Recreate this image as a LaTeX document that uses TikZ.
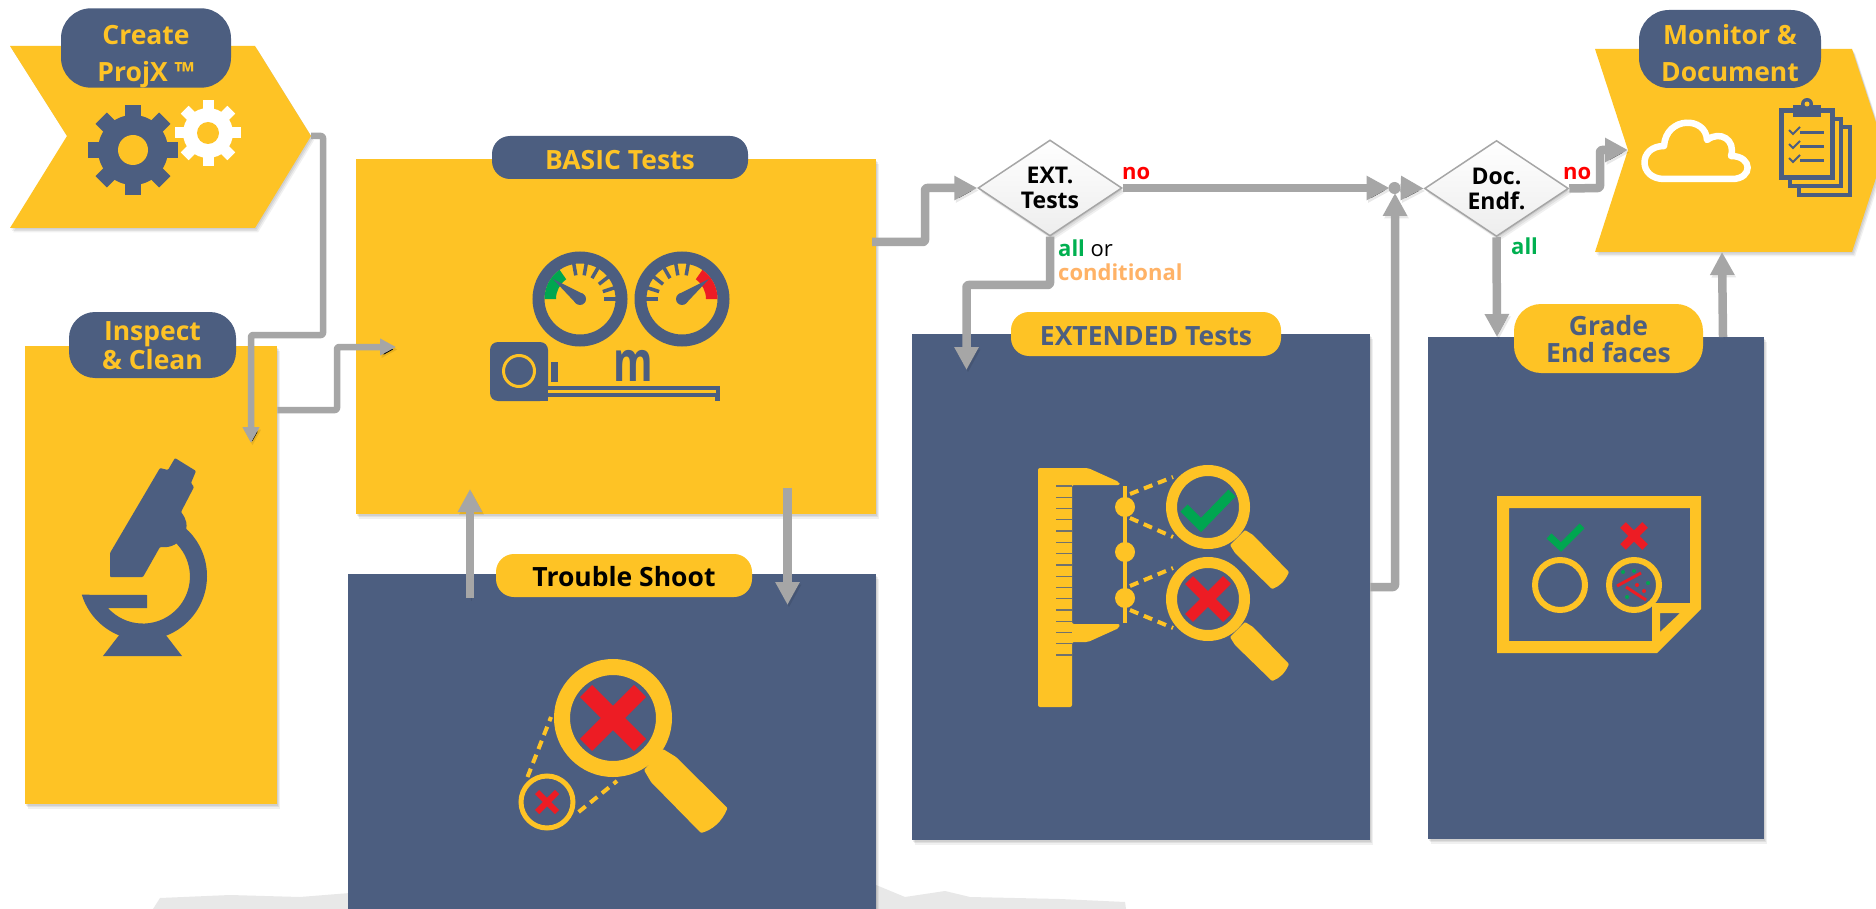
\documentclass[tikz,border=0pt]{standalone}
\usepackage{fontspec}
\setmainfont{Open Sans}
\usetikzlibrary{arrows.meta,shapes.geometric,calc}
\definecolor{ygold}{HTML}{FEC325}
\definecolor{bluegray}{HTML}{4C5E80}
\definecolor{flowgray}{HTML}{A6A6A6}
\definecolor{okgreen}{HTML}{00A650}
\definecolor{allgreen}{HTML}{00B050}
\definecolor{badred}{HTML}{ED1C24}
\definecolor{noorange}{HTML}{FFB266}
\newcommand{\pillline}[1]{\vphantom{Ap}#1}
\newcommand{\pilltop}[2]{\rule{0pt}{#1pt}\vphantom{Ap}#2}
\tikzset{
  softshadow/.style={
    preaction={fill=black,fill opacity=.07,draw=none,transform canvas={shift={(1pt,-1.5pt)}}},
    preaction={fill=black,fill opacity=.07,draw=none,transform canvas={shift={(2pt,-3pt)}}},
    preaction={fill=black,fill opacity=.06,draw=none,transform canvas={shift={(3pt,-4.5pt)}}}},
  panelY/.style={rectangle,fill=ygold,anchor=north west,inner sep=0,softshadow},
  panelB/.style={rectangle,fill=bluegray,anchor=north west,inner sep=0,softshadow},
  pillB/.style={rectangle,fill=bluegray,inner sep=0,align=center,text=ygold,font=\fontsize{26.5}{28}\selectfont\bfseries},
  pillY/.style={rectangle,fill=ygold,inner sep=0,align=center,text=bluegray,font=\fontsize{26.5}{28}\selectfont\bfseries},
  decision/.style={diamond,aspect=1.5,inner sep=0,draw=flowgray,line width=1.5pt,top color=white,bottom color=black!7,
     minimum width=144pt,minimum height=96pt,align=center,text=black,font=\fontsize{23}{26}\selectfont\bfseries,
     softshadow},
  flowthin/.style={draw=flowgray,line width=6.5pt,rounded corners=2pt,line join=round,-{Triangle[length=16pt,width=16pt]},
     preaction={draw=black,draw opacity=.09,transform canvas={shift={(1.5pt,-2.5pt)}}}},
  flowthick/.style={draw=flowgray,line width=8.5pt,rounded corners=2pt,line join=round,-{Triangle[length=23pt,width=23pt]},
     preaction={draw=black,draw opacity=.09,transform canvas={shift={(1.5pt,-2.5pt)}}}},
  lab/.style={inner sep=0,anchor=west,font=\fontsize{22}{25}\selectfont\bfseries},
  dashy/.style={ygold,line width=4pt,dash pattern=on 9pt off 6pt},
}
\begin{document}
\begin{tikzpicture}[x=1pt,y=-1pt]
\useasboundingbox (0,0) rectangle (1876,909);
\fill[white] (0,0) rectangle (1876,909);
% grainy ground band
\fill[black!9] (153,909) -- (160,898) -- (230,895) -- (300,897) -- (350,893) -- (350,909) -- cycle;
\fill[black!9] (876,885) -- (905,897) -- (945,891) -- (970,897) -- (1060,899) -- (1125,902) -- (1126,909) -- (876,909) -- cycle;

% chevrons
\path[fill=ygold,softshadow] (10,46) -- (255,46) -- (311,136) -- (255,228) -- (10,228) -- (67,136) -- cycle;
\coordinate (createTip) at (311,136);
\path[fill=ygold,softshadow] (1595,49) -- (1852,49) -- (1885,150) -- (1852,252) -- (1595,252) -- (1628,150) -- cycle;
\coordinate (monitorNotch) at (1628,150);
\coordinate (monitorBottom) at (1722,252);

% panels
\node[panelY,minimum width=252pt,minimum height=458pt] (inspect) at (25,346) {};
\node[panelY,minimum width=520pt,minimum height=355pt] (basic) at (356,159) {};
\node[panelB,minimum width=528pt,minimum height=336pt] (trouble) at (348,574) {};
\node[panelB,minimum width=458pt,minimum height=506pt] (extended) at (912,334) {};
\node[panelB,minimum width=336pt,minimum height=502pt] (grade) at (1428,337) {};

% decisions
\node[decision] (ext) at (1050,188) {EXT.\\[-1pt]Tests};
\node[decision] (doc) at (1496.5,188.5) {Doc.\\[-1pt]Endf.};
\coordinate (junction) at (1394.5,188);

% connectors
\draw[flowthin] (createTip) -- ++(12,0) -- ++(0,199) -| (251,443);
\draw[flowthin] (inspect.east |- 0,410) -- (337,410) -- (337,347) -- (396,347);
\draw[flowthick] (470,598) -- (470,489);
\draw[flowthick] (787.5,488) -- (787.5,605);
\draw[flowthick] (872,242) -- (925,242) -- (925,188) -- (ext.west);
\draw[flowthick] (ext.south) -- (1050,285) -- (966.5,285) -- (966.5,370);
\draw[flowthick] (ext.east) -- ($(junction)+(-5,0)$);
\draw[flowthick] (extended.east |- 0,587) -- (1395,587) -- (1395,193);
\fill[flowgray] (junction) circle[radius=6];
\draw[flowthick] ($(junction)+(6,0)$) -- (doc.west);
\draw[flowthick] (doc.east) -- (1600,188) -- (1600,150) -- (monitorNotch);
\draw[flowthick] (doc.south) -- (1497,337);
\draw[flowthick] (grade.north -| 1723,0) -- (monitorBottom);

% pills
\node[pillB,minimum width=170pt,minimum height=78pt,rounded corners=30pt] (createP) at (146,48) {\pilltop{36}{Create}\\[9pt]\pillline{ProjX ™}};
\node[pillB,minimum width=167pt,minimum height=66pt,rounded corners=26pt] (inspectP) at (152.5,345) {\pilltop{27}{Inspect}\\[1pt]\pillline{\& Clean}};
\node[pillB,minimum width=256pt,minimum height=43pt,rounded corners=18pt] (basicP) at (620,157.5) {\rule{0pt}{24pt}BASIC Tests};
\node[pillY,minimum width=256pt,minimum height=43pt,rounded corners=18pt,text=black] (troubleP) at (624,575.5) {\rule{0pt}{23pt}Trouble Shoot};
\node[pillY,minimum width=270pt,minimum height=44pt,rounded corners=18pt] (extendedP) at (1146,334) {\rule{0pt}{24pt}EXTENDED Tests};
\node[pillY,minimum width=189pt,minimum height=69pt,rounded corners=27pt] (gradeP) at (1608.5,338.5) {\pilltop{27}{Grade}\\[-1pt]\pillline{End faces}};
\node[pillB,minimum width=182pt,minimum height=78pt,rounded corners=30pt] (monitorP) at (1730,49) {\pilltop{34}{Monitor \&}\\[9pt]\pillline{Document}};

% labels
\node[lab,text=red] (noA) at (1122,173) {no};
\node[lab,text=red] (noB) at (1563,173) {no};
\node[lab] (allA) at (1058,248) {\textcolor{allgreen}{all} \textcolor{black}{\mdseries or}};
\node[lab,text=noorange] (condA) at (1058,272) {conditional};
\node[lab,text=allgreen] (allB) at (1511,246) {all};

% gears
\foreach \a in {0,45,...,315} \draw[bluegray,line width=16pt] (133,150) -- ++(\a:45);
\fill[bluegray] (133,150) circle[radius=35];
\fill[ygold] (133,150) circle[radius=15];
\foreach \a in {0,45,...,315} \draw[white,line width=11pt] (208,133) -- ++(\a:33);
\fill[white] (208,133) circle[radius=25];
\fill[ygold] (208,133) circle[radius=11];

% microscope
\fill[bluegray,rounded corners=1pt] (110,553) -- (160,468) -- (168,470) -- (175,458) -- (196,471) -- (191,483) -- (194,487) -- (181,512)
  .. controls (187,520) and (187,525) .. (186,530) .. controls (180,545) and (170,548) .. (160,547) -- (143,577) -- (110,577) -- cycle;
\fill[bluegray] ($(143,576)+(-50:64)$) arc[start angle=-50,end angle=163,radius=64] -- (147,595) -- (147,608) -- (108,608)
  arc[start angle=138,end angle=-52,radius=47] -- cycle;
\fill[bluegray] (120,634) -- (103,656) -- (182,656) -- (165,634) -- (143,625) -- cycle;

% gauges
\foreach \c/\s/\col/\ang in {580/1/okgreen/235,682/-1/badred/235}{
  \begin{scope}[shift={(\c,299)},xscale=\s]
    \draw[bluegray,line width=12pt] (0,0) circle[radius=41.5];
    \fill[\col] (180:35.5) arc[start angle=180,end angle=\ang,radius=35.5] -- (\ang:24) arc[start angle=\ang,end angle=180,radius=24] -- cycle;
    \foreach \a in {260,280,300,322,342,360} \draw[bluegray,line width=3.5pt] (\a:24) -- (\a:36);
    \fill[bluegray] (3.6,-4.8) -- (-27,-20) -- (-3.6,4.8) -- cycle;
    \fill[bluegray] (0,0) circle[radius=6];
  \end{scope}}

% tape
\fill[bluegray,rounded corners=8pt] (490,342) rectangle (548,401);
\fill[bluegray] (530,385) rectangle (548,401);
\draw[ygold,line width=3pt,fill=bluegray] (519,371) circle[radius=15.5];
\fill[bluegray] (551,362) rectangle (558,382);
\fill[bluegray] (548,386) rectangle (720,397);
\fill[bluegray] (715,386) rectangle (720,401);
\fill[ygold] (548,390) rectangle (716,393);
\node[inner sep=0,text=bluegray,font=\fontsize{56}{56}\selectfont\bfseries,xscale=.72] (mLabel) at (633,366) {m};

% trouble magnifier
\draw[ygold,line width=16pt] (613,718) circle[radius=51];
\fill[ygold,rounded corners=1pt] (663,749) -- (676,757) -- (727.5,808) .. controls (722,822) and (712,830) .. (701,833) -- (651,782) -- (644,770) -- cycle;
\draw[badred,line width=17pt] (586,691) -- (640,745) (640,691) -- (586,745);
\draw[ygold,line width=5pt] (547,802) circle[radius=26];
\draw[badred,line width=6pt] (537,792) -- (557,812) (557,792) -- (537,812);
\draw[dashy] (527.5,777) -- (551,717);
\draw[dashy] (578.6,812) -- (617,781);

% caliper
\fill[ygold,rounded corners=2pt] (1038,468) -- (1088,468) -- (1119,482) -- (1120,485) -- (1072,485) -- (1072,624) -- (1120,624) -- (1119,628) -- (1088,642) -- (1072,642) -- (1072,707) -- (1038,707) -- cycle;
\foreach \i in {0,...,15} \draw[bluegray!80!ygold,line width=1.3pt] (1056,486+11.27*\i) -- (1072,486+11.27*\i);
\draw[ygold,line width=4pt] (1125,486) -- (1125,623);
\foreach \y in {507,552,598} \fill[ygold] (1125,\y) circle[radius=10];
\foreach \y in {507,599}{
  \draw[ygold,line width=11pt] (1208,\y) circle[radius=36.5];
  \fill[ygold,rounded corners=1pt] (1245,\y+23) -- (1253,\y+28) -- (1289,\y+65) .. controls (1285,\y+74) and (1280,\y+79) .. (1272,\y+82) -- (1235,\y+46) -- (1230,\y+38) -- cycle;
}
\draw[okgreen,line width=10pt] (1184,508) -- (1201,525) -- (1232,493);
\draw[badred,line width=11pt] (1189,580) -- (1227,618) (1227,580) -- (1189,618);
\draw[dashy] (1130,494) -- (1173,477);
\draw[dashy] (1130,518) -- (1173,537);
\draw[dashy] (1130,586) -- (1173,568);
\draw[dashy] (1130,610) -- (1173,628);

% grade icon
\fill[ygold,even odd rule] (1497,496) -- (1701,496) -- (1701,609) -- (1657,653) -- (1497,653) -- cycle
  (1509,508) -- (1690,508) -- (1690,603) -- (1652,603) -- (1652,641) -- (1509,641) -- cycle
  (1660,613) -- (1680,613) -- (1660,632) -- cycle;
\draw[okgreen,line width=7pt] (1549,536) -- (1561,547) -- (1582,526);
\draw[badred,line width=8pt] (1623,525) -- (1645,547) (1645,525) -- (1623,547);
\draw[ygold,line width=6pt] (1560,585) circle[radius=25];
\draw[ygold,line width=6pt] (1634,585) circle[radius=25];
\draw[badred,line width=3pt] (1617,586) -- (1641,573) (1626,587) -- (1646,600);
\foreach \p in {(1623,572),(1634,571),(1648,583),(1627,597)} \fill[okgreen] \p circle[radius=2];
\foreach \p in {(1637,585),(1644,591)} \fill[badred] \p circle[radius=2];

% cloud
\draw[white,line width=6.5pt,line join=round] (1664,179) .. controls (1638,179) and (1638,146) .. (1664,146)
  .. controls (1666,116) and (1706,116) .. (1707,140) .. controls (1720,130) and (1736,140) .. (1731,156)
  .. controls (1753,156) and (1753,179) .. (1732,179) -- cycle;

% clipboards
\draw[bluegray,line width=4.5pt] (1799,127) -- (1850,127) -- (1850,195) -- (1799,195) -- cycle;
\draw[bluegray,line width=4.5pt,fill=ygold] (1790,119) -- (1841,119) -- (1841,186) -- (1790,186) -- cycle;
\draw[bluegray,line width=5pt,fill=ygold] (1781.5,110.5) -- (1832.5,110.5) -- (1832.5,178) -- (1781.5,178) -- cycle;
\fill[bluegray] (1793,105) rectangle (1821,117);
\fill[bluegray] (1807,104) circle[radius=6];
\fill[ygold] (1807,104) circle[radius=2.5];
\foreach \y in {131,145,159}{
  \draw[bluegray,line width=2pt] (1789,\y-1) -- (1793,\y+3) -- (1800,\y-4);
  \draw[bluegray,line width=3pt] (1800,\y+2) -- (1824,\y+2);
}
\end{tikzpicture}
\end{document}
